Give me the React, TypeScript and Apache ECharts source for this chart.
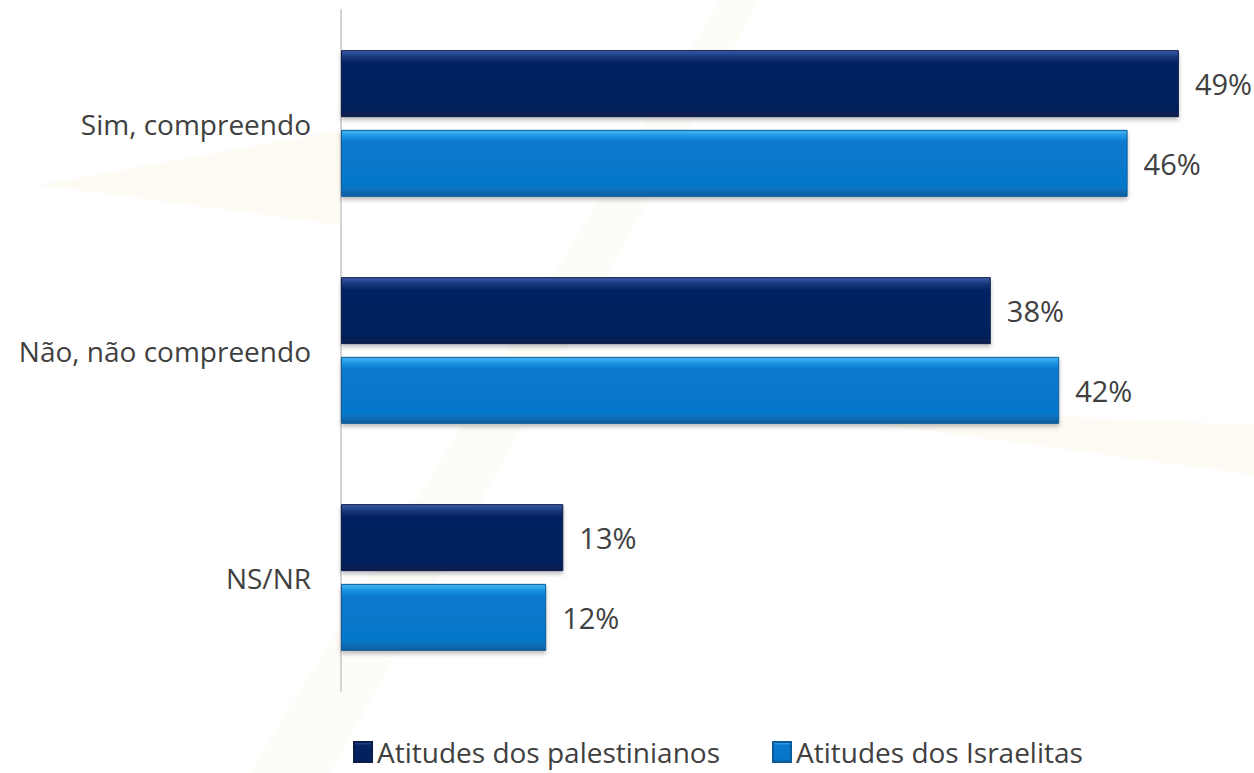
import React, { useEffect, useRef } from "react";
import * as echarts from "echarts";

const categories = ["Sim, compreendo", "Não, não compreendo", "NS/NR"];
const palestinianos = [49, 38, 13];
const israelitas = [46, 42, 12];
const seriesNames = ["Atitudes dos palestinianos", "Atitudes dos Israelitas"];

const FONT = "'Open Sans', 'Noto Sans', sans-serif";

const darkGrad = new echarts.graphic.LinearGradient(0, 0, 0, 1, [
  { offset: 0, color: "#3b5ca8" },
  { offset: 0.1, color: "#15357a" },
  { offset: 0.18, color: "#052463" },
  { offset: 0.85, color: "#03205c" },
  { offset: 1, color: "#0a1f4e" },
]);
const lightGrad = new echarts.graphic.LinearGradient(0, 0, 0, 1, [
  { offset: 0, color: "#45b6f5" },
  { offset: 0.1, color: "#1a90e0" },
  { offset: 0.18, color: "#0879cc" },
  { offset: 0.85, color: "#0677c9" },
  { offset: 1, color: "#0d5f9e" },
]);

export default function App() {
  const ref = useRef<HTMLDivElement>(null);
  useEffect(() => {
    const chart = echarts.init(ref.current!, null, { renderer: "svg" });
    const labelStyle = {
      show: true,
      position: "right" as const,
      distance: 16,
      formatter: "{c}%",
      fontSize: 29,
      color: "#404040",
      fontFamily: FONT,
    };
    chart.setOption({
      animation: false,
      backgroundColor: "#ffffff",
      textStyle: { fontFamily: FONT },
      graphic: [
        {
          type: "polygon",
          silent: true,
          z: -10,
          shape: { points: [[40, 185], [340, 130], [340, 225]] },
          style: { fill: "#fefbf5" },
        },
        {
          type: "polygon",
          silent: true,
          z: -10,
          shape: { points: [[250, 773], [720, 0], [760, 0], [330, 773]] },
          style: { fill: "#fefcf7" },
        },
        {
          type: "polygon",
          silent: true,
          z: -10,
          shape: { points: [[700, 400], [1254, 425], [1254, 475]] },
          style: { fill: "#fefbf5" },
        },
      ],
      grid: { left: 341, top: 10, width: 855, height: 681, containLabel: false },
      xAxis: {
        type: "value",
        min: 0,
        max: 50,
        show: false,
      },
      yAxis: {
        type: "category",
        data: categories,
        inverse: true,
        axisLine: { show: true, lineStyle: { color: "#d3d3d3", width: 2 } },
        axisTick: { show: false },
        axisLabel: {
          fontSize: 28,
          color: "#404040",
          fontFamily: FONT,
          margin: 30,
        },
      },
      legend: {
        bottom: 2,
        left: 348,
        itemWidth: 18,
        itemHeight: 20,
        itemGap: 52,
        icon: "rect",
        textStyle: { fontSize: 28, color: "#404040", fontFamily: FONT },
        data: seriesNames,
      },
      series: [
        {
          name: seriesNames[0],
          type: "bar",
          data: palestinianos,
          barWidth: 67,
          barGap: "19%",
          itemStyle: {
            color: darkGrad,
            borderColor: "#0b1e4a",
            borderWidth: 1,
            shadowColor: "rgba(0,0,0,0.25)",
            shadowBlur: 4,
            shadowOffsetY: 3,
          },
          label: labelStyle,
        },
        {
          name: seriesNames[1],
          type: "bar",
          data: israelitas,
          barWidth: 67,
          itemStyle: {
            color: lightGrad,
            borderColor: "#0b5c99",
            borderWidth: 1,
            shadowColor: "rgba(0,0,0,0.25)",
            shadowBlur: 4,
            shadowOffsetY: 3,
          },
          label: labelStyle,
        },
      ],
    });
    return () => chart.dispose();
  }, []);
  return <div ref={ref} style={{ width: 1254, height: 773, position: "absolute", left: 0, top: 0 }} />;
}
